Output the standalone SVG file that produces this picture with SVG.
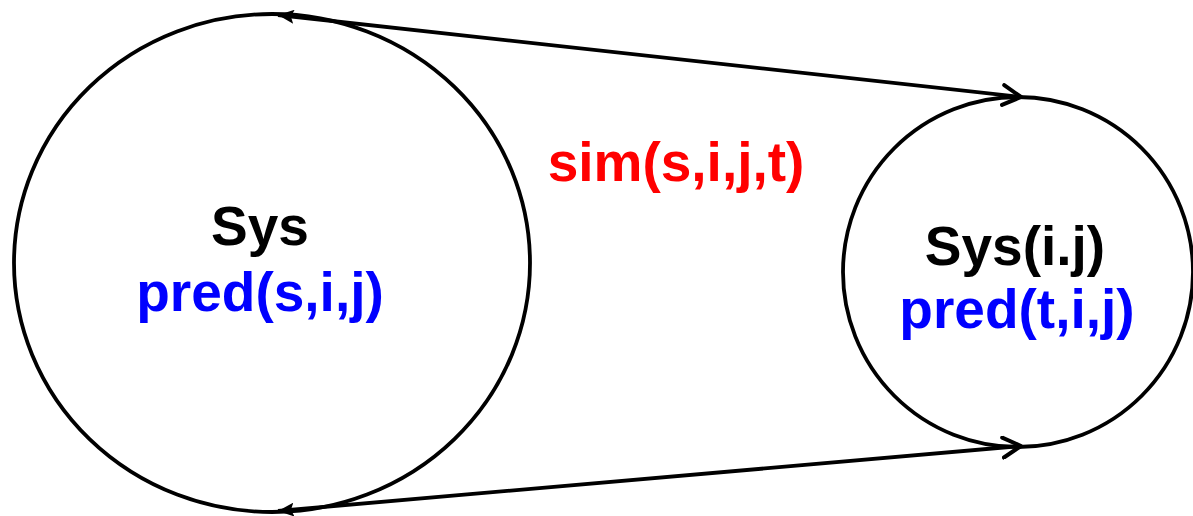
<svg xmlns="http://www.w3.org/2000/svg" width="1193" height="516" viewBox="0 0 1193 516">
<style>
.c{fill:none;stroke:#000;stroke-width:3.8}
.l{fill:none;stroke:#000;stroke-width:3.8}
text{font-family:"Liberation Sans",Arial,sans-serif;font-weight:bold;text-anchor:middle;font-size:55px}
.k{fill:#000}.b{fill:#0000ff}.r{fill:#ff0000}
</style>
<defs>
<marker id="open" markerWidth="22" markerHeight="24" refX="20" refY="12" orient="auto" markerUnits="userSpaceOnUse" viewBox="0 0 22 24">
<path d="M2,2 L20,12 L2,22" fill="none" stroke="#000" stroke-width="4" stroke-linecap="round" stroke-linejoin="round"/>
</marker>
<marker id="fill" markerWidth="16" markerHeight="14" refX="0" refY="7" orient="auto" markerUnits="userSpaceOnUse" viewBox="0 0 16 14">
<path d="M0,7 L16,0 L13,7 L16,14 Z" fill="#000"/>
</marker>
</defs>
<g id="sys">
<ellipse class="c" cx="272" cy="263" rx="258" ry="249"/>
<text class="k" x="260" y="245">Sys</text>
<text class="b" x="260" y="311">pred(s,i,j)</text>
</g>
<g id="sysij">
<ellipse class="c" cx="1018" cy="272" rx="175" ry="175"/>
<text class="k" x="1015" y="265">Sys(i.j)</text>
<text class="b" x="1017" y="328">pred(t,i,j)</text>
</g>
<g id="connectors">
<line class="l" x1="278" y1="15" x2="1021" y2="97" marker-start="url(#fill)" marker-end="url(#open)"/>
<line class="l" x1="278" y1="511" x2="1021" y2="446" marker-start="url(#fill)" marker-end="url(#open)"/>
</g>
<text class="r" x="676" y="181">sim(s,i,j,t)</text>
</svg>
